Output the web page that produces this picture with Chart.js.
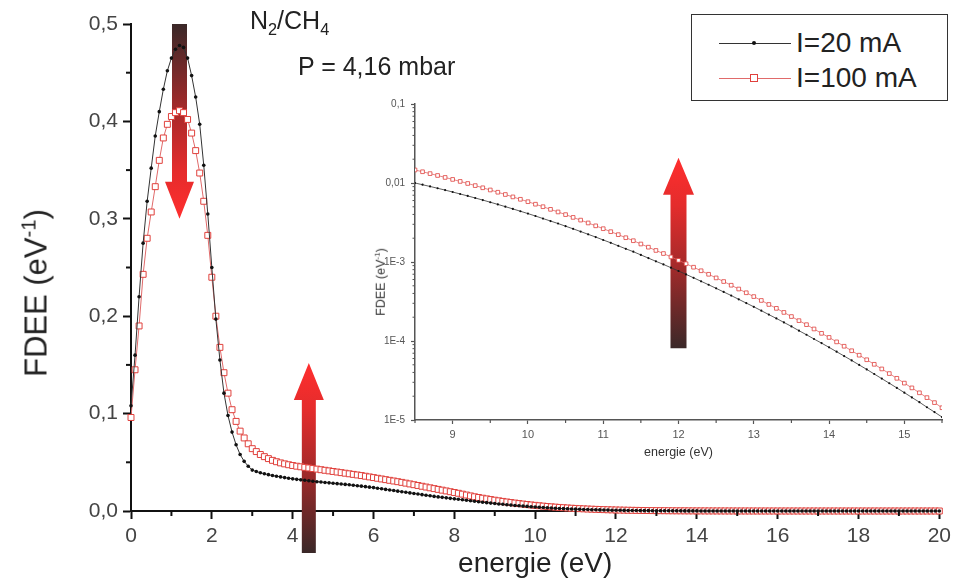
<!DOCTYPE html>
<html>
<head>
<meta charset="utf-8">
<script src="https://cdn.jsdelivr.net/npm/chart.js@4.4.1/dist/chart.umd.min.js"></script>
<style>
  body { margin: 0; background: #fff; }
  #wrap { position: relative; width: 956px; height: 581px; font-family: 'Liberation Sans', Arial, sans-serif; color: #222; }
  #mainChart { position: absolute; left: 0; top: 0; }
  #insetChart { position: absolute; left: 350px; top: 88px; }
  .note { position: absolute; white-space: nowrap; line-height: 1; }
  .ytitle { position: absolute; transform: translate(-50%, -50%) rotate(-90deg); white-space: nowrap; line-height: 1; }
  sup, sub { font-size: 65%; line-height: 0; }
  #legend { position: absolute; left: 691px; top: 14px; width: 255px; height: 85px; border: 1.5px solid #333; background: #fff; }
  .lg-row { position: absolute; left: 0; height: 30px; width: 250px; }
  .lg-line { position: absolute; left: 27px; top: 15px; width: 72px; height: 0; border-top: 1px solid #333; }
  .lg-mark { position: absolute; box-sizing: border-box; }
  .lg-text { position: absolute; left: 104px; top: 0; font-size: 28px; line-height: 30px; color: #222; }
</style>
</head>
<body>
<div id="wrap">
  <canvas id="mainChart" width="956" height="581"></canvas>
  <canvas id="insetChart" width="606" height="380"></canvas>
  <div class="ytitle" style="left:36px; top:293px; font-size:31px;">FDEE (eV<sup>-1</sup>)</div>
  <div class="ytitle" style="left:381px; top:282px; font-size:12.5px; color:#333;">FDEE (eV<sup>-1</sup>)</div>
  <div class="note" style="left:250px; top:8px; font-size:25px;">N<sub>2</sub>/CH<sub>4</sub></div>
  <div class="note" style="left:298px; top:54px; font-size:25px;">P = 4,16 mbar</div>
  <div id="legend"></div>
</div>
<script>
// energy grid (eV), one row per integer
const energie = [
  0.0, 0.1, 0.2, 0.3, 0.4, 0.5, 0.6, 0.7, 0.8, 0.9,
  1.0, 1.1, 1.2, 1.3, 1.4, 1.5, 1.6, 1.7, 1.8, 1.9,
  2.0, 2.1, 2.2, 2.3, 2.4, 2.5, 2.6, 2.7, 2.8, 2.9,
  3.0, 3.1, 3.2, 3.3, 3.4, 3.5, 3.6, 3.7, 3.8, 3.9,
  4.0, 4.1, 4.2, 4.3, 4.4, 4.5, 4.6, 4.7, 4.8, 4.9,
  5.0, 5.1, 5.2, 5.3, 5.4, 5.5, 5.6, 5.7, 5.8, 5.9,
  6.0, 6.1, 6.2, 6.3, 6.4, 6.5, 6.6, 6.7, 6.8, 6.9,
  7.0, 7.1, 7.2, 7.3, 7.4, 7.5, 7.6, 7.7, 7.8, 7.9,
  8.0, 8.1, 8.2, 8.3, 8.4, 8.5, 8.6, 8.7, 8.8, 8.9,
  9.0, 9.1, 9.2, 9.3, 9.4, 9.5, 9.6, 9.7, 9.8, 9.9,
  10.0, 10.1, 10.2, 10.3, 10.4, 10.5, 10.6, 10.7, 10.8, 10.9,
  11.0, 11.1, 11.2, 11.3, 11.4, 11.5, 11.6, 11.7, 11.8, 11.9,
  12.0, 12.1, 12.2, 12.3, 12.4, 12.5, 12.6, 12.7, 12.8, 12.9,
  13.0, 13.1, 13.2, 13.3, 13.4, 13.5, 13.6, 13.7, 13.8, 13.9,
  14.0, 14.1, 14.2, 14.3, 14.4, 14.5, 14.6, 14.7, 14.8, 14.9,
  15.0, 15.1, 15.2, 15.3, 15.4, 15.5, 15.6, 15.7, 15.8, 15.9,
  16.0, 16.1, 16.2, 16.3, 16.4, 16.5, 16.6, 16.7, 16.8, 16.9,
  17.0, 17.1, 17.2, 17.3, 17.4, 17.5, 17.6, 17.7, 17.8, 17.9,
  18.0, 18.1, 18.2, 18.3, 18.4, 18.5, 18.6, 18.7, 18.8, 18.9,
  19.0, 19.1, 19.2, 19.3, 19.4, 19.5, 19.6, 19.7, 19.8, 19.9,
  20.0
];

// FDEE for I = 20 mA (eV^-1)
const fdee20 = [
  0.108, 0.160, 0.220, 0.275, 0.318, 0.352, 0.385, 0.410, 0.433, 0.452,
  0.465, 0.474, 0.478, 0.476, 0.465, 0.447, 0.425, 0.397, 0.355, 0.305,
  0.250, 0.197, 0.155, 0.121, 0.098, 0.081, 0.068, 0.058, 0.051, 0.046,
  0.0420, 0.0405, 0.0393, 0.0382, 0.0373, 0.0365, 0.0357, 0.0350, 0.0343, 0.0336,
  0.0330, 0.0325, 0.0320, 0.0315, 0.0310, 0.0305, 0.0301, 0.0297, 0.0293, 0.0289,
  0.0285, 0.0281, 0.0277, 0.0273, 0.0269, 0.0265, 0.0260, 0.0255, 0.0250, 0.0245,
  0.0240, 0.0234, 0.0228, 0.0222, 0.0216, 0.0210, 0.0204, 0.0198, 0.0192, 0.0186,
  0.0180, 0.0174, 0.0168, 0.0162, 0.0156, 0.0150, 0.0145, 0.0140, 0.0135, 0.0130,
  0.0125, 0.0120, 0.0115, 0.0110, 0.0105, 0.0100, 9.51e-3, 9.04e-3, 8.58e-3, 8.13e-3,
  7.69e-3, 7.26e-3, 6.86e-3, 6.46e-3, 6.08e-3, 5.71e-3, 5.36e-3, 5.02e-3, 4.70e-3, 4.39e-3,
  4.10e-3, 3.82e-3, 3.55e-3, 3.30e-3, 3.07e-3, 2.84e-3, 2.63e-3, 2.43e-3, 2.24e-3, 2.07e-3,
  1.90e-3, 1.75e-3, 1.60e-3, 1.47e-3, 1.35e-3, 1.23e-3, 1.12e-3, 1.02e-3, 9.32e-4, 8.47e-4,
  7.69e-4, 6.97e-4, 6.31e-4, 5.70e-4, 5.15e-4, 4.64e-4, 4.18e-4, 3.76e-4, 3.37e-4, 3.02e-4,
  2.71e-4, 2.42e-4, 2.16e-4, 1.93e-4, 1.72e-4, 1.53e-4, 1.35e-4, 1.20e-4, 1.06e-4, 9.40e-5,
  8.31e-5, 7.32e-5, 6.45e-5, 5.67e-5, 4.98e-5, 4.37e-5, 3.82e-5, 3.34e-5, 2.92e-5, 2.55e-5,
  2.22e-5, 1.93e-5, 1.68e-5, 1.45e-5, 1.26e-5, 1.09e-5, 9.4e-6, 8.1e-6, 7.0e-6, 6.0e-6,
  5.1e-6, 0, 0, 0, 0, 0, 0, 0, 0, 0,
  0, 0, 0, 0, 0, 0, 0, 0, 0, 0,
  0, 0, 0, 0, 0, 0, 0, 0, 0, 0,
  0, 0, 0, 0, 0, 0, 0, 0, 0, 0,
  0
];

// FDEE for I = 100 mA (eV^-1)
const fdee100 = [
  0.096, 0.145, 0.190, 0.243, 0.280, 0.307, 0.333, 0.360, 0.383, 0.397,
  0.405, 0.409, 0.411, 0.409, 0.402, 0.388, 0.370, 0.347, 0.318, 0.283,
  0.240, 0.200, 0.168, 0.142, 0.121, 0.104, 0.092, 0.082, 0.075, 0.069,
  0.0640, 0.0610, 0.0580, 0.0558, 0.0538, 0.0520, 0.0506, 0.0494, 0.0484, 0.0475,
  0.0467, 0.0460, 0.0454, 0.0448, 0.0442, 0.0436, 0.0430, 0.0424, 0.0418, 0.0412,
  0.0406, 0.0400, 0.0394, 0.0388, 0.0382, 0.0376, 0.0370, 0.0364, 0.0357, 0.0350,
  0.0343, 0.0336, 0.0329, 0.0322, 0.0315, 0.0308, 0.0301, 0.0294, 0.0286, 0.0278,
  0.0270, 0.0262, 0.0254, 0.0246, 0.0238, 0.0230, 0.0222, 0.0214, 0.0206, 0.0198,
  0.0190, 0.0182, 0.0173, 0.0164, 0.0155, 0.01462, 0.01388, 0.01315, 0.01245, 0.01176,
  0.01110, 0.01047, 9.86e-3, 9.27e-3, 8.70e-3, 8.16e-3, 7.64e-3, 7.15e-3, 6.67e-3, 6.22e-3,
  5.80e-3, 5.39e-3, 5.01e-3, 4.64e-3, 4.30e-3, 3.98e-3, 3.67e-3, 3.39e-3, 3.12e-3, 2.87e-3,
  2.64e-3, 2.42e-3, 2.22e-3, 2.03e-3, 1.86e-3, 1.69e-3, 1.54e-3, 1.40e-3, 1.28e-3, 1.16e-3,
  1.05e-3, 9.50e-4, 8.59e-4, 7.75e-4, 6.99e-4, 6.29e-4, 5.66e-4, 5.08e-4, 4.55e-4, 4.08e-4,
  3.65e-4, 3.26e-4, 2.90e-4, 2.59e-4, 2.30e-4, 2.04e-4, 1.81e-4, 1.61e-4, 1.42e-4, 1.25e-4,
  1.11e-4, 9.75e-5, 8.58e-5, 7.53e-5, 6.61e-5, 5.79e-5, 5.07e-5, 4.43e-5, 3.87e-5, 3.37e-5,
  2.93e-5, 2.55e-5, 2.21e-5, 1.92e-5, 1.66e-5, 1.43e-5, 1.23e-5, 1.05e-5, 9.0e-6, 7.6e-6,
  6.4e-6, 0, 0, 0, 0, 0, 0, 0, 0, 0,
  0, 0, 0, 0, 0, 0, 0, 0, 0, 0,
  0, 0, 0, 0, 0, 0, 0, 0, 0, 0,
  0, 0, 0, 0, 0, 0, 0, 0, 0, 0,
  0
];

const seriesLabels = ['I=20 mA', 'I=100 mA'];

// main axes ticks
const mainXTicks = [0, 2, 4, 6, 8, 10, 12, 14, 16, 18, 20];
const mainXMinor = [1, 3, 5, 7, 9, 11, 13, 15, 17, 19];
const mainYTicks = [0, 0.1, 0.2, 0.3, 0.4, 0.5];
const mainYLabels = ['0,0', '0,1', '0,2', '0,3', '0,4', '0,5'];
const mainYMinor = [0.05, 0.15, 0.25, 0.35, 0.45];

// inset axes ticks
const insetRange = [8.5, 15.5];
const insetXTicks = [9, 10, 11, 12, 13, 14, 15];
const insetXMinor = [8.5, 9.5, 10.5, 11.5, 12.5, 13.5, 14.5, 15.5];
const insetYTicks = [1e-5, 1e-4, 1e-3, 0.01, 0.1];
const insetYLabels = ['1E-5', '1E-4', '1E-3', '0,01', '0,1'];
const insetYMinor = [2e-5, 3e-5, 4e-5, 5e-5, 6e-5, 7e-5, 8e-5, 9e-5,
                     2e-4, 3e-4, 4e-4, 5e-4, 6e-4, 7e-4, 8e-4, 9e-4,
                     2e-3, 3e-3, 4e-3, 5e-3, 6e-3, 7e-3, 8e-3, 9e-3,
                     0.02, 0.03, 0.04, 0.05, 0.06, 0.07, 0.08, 0.09];

// arrows in data units: x, tail value, tip value
const mainArrows = [
  { x: 1.2, from: 0.5, to: 0.30, shaft: 15, head: 29, headLen: 37 },
  { x: 4.4, from: -0.043, to: 0.152, shaft: 14, head: 30, headLen: 37 }
];
const insetArrows = [
  { x: 12, from: 8.1e-5, to: 0.0208, shaft: 16, head: 31, headLen: 37 }
];

Chart.defaults.font.family = "'Liberation Sans', Arial, sans-serif";

function toPoints(values, lo, hi) {
  const pts = [];
  energie.forEach((e, i) => {
    if (e >= lo && e <= hi) pts.push({ x: e, y: values[i] });
  });
  return pts;
}

function makeArrowPlugin(list) {
  return {
    id: 'arrows',
    beforeDatasetsDraw(chart) {
      const ctx = chart.ctx;
      const xs = chart.scales.x, ys = chart.scales.y;
      list.forEach(a => {
        const cx = xs.getPixelForValue(a.x);
        const yTail = ys.getPixelForValue(a.from);
        const yTip = ys.getPixelForValue(a.to);
        const dir = yTip < yTail ? -1 : 1;
        const yBase = yTip - dir * a.headLen;
        const g = ctx.createLinearGradient(0, yTail, 0, yTip);
        g.addColorStop(0, '#3a2828');
        g.addColorStop(0.45, '#a82a2a');
        g.addColorStop(0.75, '#e42c2c');
        g.addColorStop(1, '#ff2e2e');
        ctx.save();
        ctx.fillStyle = g;
        ctx.beginPath();
        ctx.moveTo(cx - a.shaft / 2, yTail);
        ctx.lineTo(cx - a.shaft / 2, yBase);
        ctx.lineTo(cx - a.head / 2, yBase);
        ctx.lineTo(cx, yTip);
        ctx.lineTo(cx + a.head / 2, yBase);
        ctx.lineTo(cx + a.shaft / 2, yBase);
        ctx.lineTo(cx + a.shaft / 2, yTail);
        ctx.closePath();
        ctx.fill();
        ctx.restore();
      });
    }
  };
}

function makeMinorTicks(list) {
  return {
    id: 'minorTicks',
    afterDraw(chart) {
      const ctx = chart.ctx;
      list.forEach(m => {
        const s = chart.scales[m.axis];
        ctx.save();
        ctx.strokeStyle = m.color;
        ctx.lineWidth = m.width;
        m.values.forEach(v => {
          const p = s.getPixelForValue(v);
          ctx.beginPath();
          if (s.isHorizontal()) { ctx.moveTo(p, s.top); ctx.lineTo(p, s.top + m.length); }
          else { ctx.moveTo(s.right, p); ctx.lineTo(s.right - m.length, p); }
          ctx.stroke();
        });
        ctx.restore();
      });
    }
  };
}

const styles = [
  { borderColor: '#333', borderWidth: 1, pointStyle: 'circle', pointBackgroundColor: '#111', pointBorderWidth: 0 },
  { borderColor: '#e06a6a', borderWidth: 1, pointStyle: 'rect', pointBackgroundColor: '#fff', pointBorderColor: '#e0403c', pointBorderWidth: 1 }
];

const mainChart = new Chart(document.getElementById('mainChart'), {
  type: 'line',
  data: {
    datasets: [
      Object.assign({ label: seriesLabels[0], data: toPoints(fdee20, 0, 20), pointRadius: 1.8, clip: false }, styles[0]),
      Object.assign({ label: seriesLabels[1], data: toPoints(fdee100, 0, 20), pointRadius: 4.2, clip: false }, styles[1])
    ]
  },
  options: {
    responsive: false,
    animation: false,
    layout: { padding: { top: 24, right: 11, left: 0, bottom: 0 } },
    plugins: { legend: { display: false }, tooltip: { enabled: false } },
    scales: {
      x: {
        type: 'linear', min: 0, max: 20,
        afterBuildTicks: s => { s.ticks = mainXTicks.map(v => ({ value: v })); },
        afterFit: s => { s.height = 70; },
        ticks: { font: { size: 21 }, color: '#444', padding: 5, maxRotation: 0 },
        grid: { drawOnChartArea: false, tickLength: 8, tickWidth: 2, tickColor: '#111' },
        border: { color: '#111', width: 2 },
        title: { display: true, text: 'energie (eV)', font: { size: 28 }, color: '#222', padding: { top: 0, bottom: 0 } }
      },
      y: {
        type: 'linear', min: 0, max: 0.5,
        afterBuildTicks: s => { s.ticks = mainYTicks.map(v => ({ value: v })); },
        afterFit: s => { s.width = 131; },
        ticks: { font: { size: 21 }, color: '#444', padding: 5, callback: (v, i) => mainYLabels[i] },
        grid: { drawOnChartArea: false, tickLength: 8, tickWidth: 2, tickColor: '#111' },
        border: { color: '#111', width: 2 }
      }
    }
  },
  plugins: [
    makeArrowPlugin(mainArrows),
    makeMinorTicks([
      { axis: 'x', values: mainXMinor, length: 5, width: 2, color: '#111' },
      { axis: 'y', values: mainYMinor, length: 5, width: 2, color: '#111' }
    ])
  ]
});

const insetChart = new Chart(document.getElementById('insetChart'), {
  type: 'line',
  data: {
    datasets: [
      Object.assign({ label: seriesLabels[0], data: toPoints(fdee20, insetRange[0], insetRange[1]), pointRadius: 1.1 }, styles[0], { borderWidth: 0.8 }),
      Object.assign({ label: seriesLabels[1], data: toPoints(fdee100, insetRange[0], insetRange[1]), pointRadius: 2.6 }, styles[1], { borderWidth: 0.8, pointBorderWidth: 0.8 })
    ]
  },
  options: {
    responsive: false,
    animation: false,
    layout: { padding: { top: 16, right: 14, left: 0, bottom: 0 } },
    plugins: { legend: { display: false }, tooltip: { enabled: false } },
    scales: {
      x: {
        type: 'linear', min: insetRange[0], max: insetRange[1],
        afterBuildTicks: s => { s.ticks = insetXTicks.map(v => ({ value: v })); },
        afterFit: s => { s.height = 48; },
        ticks: { font: { size: 11 }, color: '#555', padding: 4, maxRotation: 0 },
        grid: { drawOnChartArea: false, tickLength: 4, tickWidth: 1.2, tickColor: '#555' },
        border: { color: '#555', width: 1.5 },
        title: { display: true, text: 'energie (eV)', font: { size: 12.5 }, color: '#333', padding: { top: 0, bottom: 8 } }
      },
      y: {
        type: 'logarithmic', min: 1e-5, max: 0.1,
        afterBuildTicks: s => { s.ticks = insetYTicks.map(v => ({ value: v })); },
        afterFit: s => { s.width = 65; },
        ticks: { font: { size: 10 }, color: '#555', padding: 6, callback: (v, i) => insetYLabels[i] },
        grid: { drawOnChartArea: false, tickLength: 4, tickWidth: 1.2, tickColor: '#555' },
        border: { color: '#555', width: 1.5 }
      }
    }
  },
  plugins: [
    makeArrowPlugin(insetArrows),
    makeMinorTicks([
      { axis: 'x', values: insetXMinor, length: 3, width: 1.2, color: '#555' },
      { axis: 'y', values: insetYMinor, length: 2.5, width: 1, color: '#555' }
    ])
  ]
});

// legend box built from the main chart datasets
function buildLegend(chart) {
  const box = document.getElementById('legend');
  chart.data.datasets.forEach((ds, i) => {
    const row = document.createElement('div');
    row.className = 'lg-row';
    row.style.top = (13 + i * 35) + 'px';
    const line = document.createElement('div');
    line.className = 'lg-line';
    line.style.borderTopColor = ds.borderColor;
    const mark = document.createElement('div');
    mark.className = 'lg-mark';
    if (ds.pointStyle === 'rect') {
      Object.assign(mark.style, { left: '58px', top: '11px', width: '8px', height: '8px', background: '#fff', border: '1px solid ' + ds.pointBorderColor });
    } else {
      Object.assign(mark.style, { left: '60px', top: '13px', width: '4px', height: '4px', borderRadius: '50%', background: ds.pointBackgroundColor });
    }
    const text = document.createElement('div');
    text.className = 'lg-text';
    text.textContent = ds.label;
    row.append(line, mark, text);
    box.appendChild(row);
  });
}
buildLegend(mainChart);
</script>
</body>
</html>
